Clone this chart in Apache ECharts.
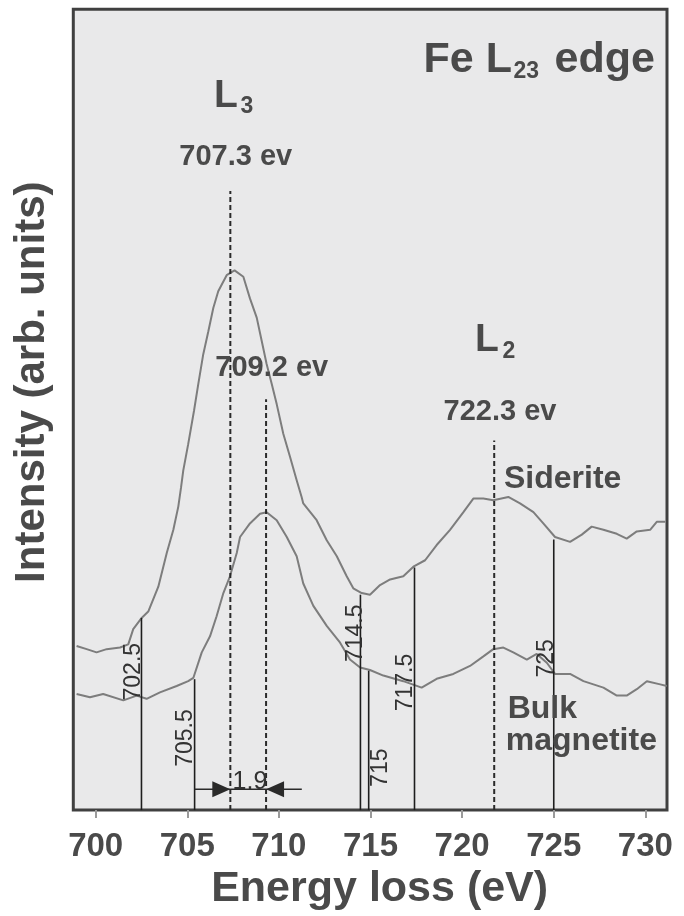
<!DOCTYPE html>
<html><head><meta charset="utf-8">
<script src="https://cdn.jsdelivr.net/npm/echarts@6/dist/echarts.min.js"></script>
<style>html,body{margin:0;padding:0;background:#fff}#c{width:684px;height:916px}</style>
</head><body><div id="c"></div>
<script>
// ---- data ----
const xTicks = [700, 705, 710, 715, 720, 725, 730];
const siderite = [[698.96,20.5],[699.51,20.1],[700.05,19.7],[700.60,20.1],[701.33,20.3],[701.78,20.7],[702.05,22.6],[702.51,24.0],[702.87,24.8],[703.42,27.9],[703.88,32.1],[704.24,35.0],[704.51,37.9],[704.66,40.3],[704.78,42.4],[705.05,45.7],[705.37,49.9],[705.60,53.2],[705.87,56.9],[706.15,59.8],[706.42,62.7],[706.69,64.8],[707.15,66.8],[707.58,67.4],[708.06,66.6],[708.42,63.9],[708.79,61.5],[709.06,58.6],[709.33,55.7],[709.61,53.2],[709.88,50.7],[710.24,47.0],[710.61,44.1],[710.97,41.2],[711.24,39.1],[711.33,38.3],[712.06,36.2],[712.61,33.7],[713.16,31.7],[713.70,29.2],[714.06,27.7],[714.52,27.1],[714.97,26.9],[715.52,28.1],[716.07,28.8],[716.79,29.2],[717.34,30.4],[717.98,31.2],[718.61,33.1],[719.34,35.0],[720.07,37.2],[720.61,38.9],[721.16,38.9],[721.70,38.7],[722.52,39.1],[723.16,38.3],[723.89,37.2],[724.43,35.8],[725.07,34.1],[725.89,33.5],[726.53,34.4],[727.07,35.4],[727.71,35.0],[728.44,34.5],[728.98,33.9],[729.53,34.8],[730.26,35.0],[730.62,36.0],[731.08,36.0]];
const magnetite = [[698.96,14.5],[699.69,14.1],[700.41,14.5],[701.51,13.7],[702.24,14.3],[702.78,13.9],[703.51,14.7],[704.42,15.5],[705.05,16.1],[705.33,16.5],[705.79,19.7],[706.24,21.7],[706.60,24.2],[706.97,27.1],[707.33,29.2],[707.70,32.1],[707.88,34.1],[708.42,35.8],[708.97,37.0],[709.33,37.2],[709.88,36.2],[710.43,34.1],[710.97,31.7],[711.33,28.3],[711.88,25.5],[712.61,23.0],[713.34,20.9],[713.88,18.8],[714.43,17.8],[714.97,17.5],[715.70,16.8],[716.79,16.1],[717.79,15.3],[718.61,16.4],[719.52,17.0],[720.43,18.0],[721.16,19.2],[721.70,20.1],[722.25,20.3],[722.79,19.7],[723.53,18.8],[724.07,19.5],[724.62,18.4],[725.07,17.0],[725.89,17.0],[726.62,16.1],[727.71,15.3],[728.44,14.3],[728.98,14.3],[729.53,15.1],[730.08,16.1],[730.81,15.7],[731.17,15.5]];
const markerLabels = ['702.5', '705.5', '714.5', '715', '717.5', '725'];
const markerEnergy = [702.5, 705.4, 714.45, 714.9, 717.4, 725.0];
const markerTop = [24.0, 16.35, 26.9, 17.4, 30.3, 33.8];
const peakLabels = ['707.3 ev', '709.2 ev', '722.3 ev'];
const peakEnergy = [707.35, 709.3, 721.75];
const peakTop = [77.3, 51.3, 46.15];
const shiftFrom = [705.4, 707.35, 711.25];
const shiftTo = [707.35, 709.3, 709.3];
const shiftHead = [1, 0, 1];
const shiftLevel = [2.6];
const shiftLabel = '1.9';

// ---- layout / style ----
const FF = '"Liberation Sans", Arial, sans-serif';
const TXT = '#4a4a4a';
const markerLabelPos = [[133.7,671.7],[185.3,738],[355.3,633.3],[380.7,767.7],[406,682.5],[547,658.3]];
const peakLabelPos = [[235.8,157.3],[271.7,368.3],[500,411.7]];

const chart = echarts.init(document.getElementById('c'), null, {renderer: 'canvas'});

function txt(x, y, text, font, align, fill, rotation) {
  return {type: 'text', x: x, y: y, rotation: rotation || 0, z: 100,
    style: {text: text, font: font, fill: fill || TXT, align: align || 'left', verticalAlign: 'middle',
            textAlign: align || 'left', textVerticalAlign: 'middle'}};
}

const graphics = [];
graphics.push(txt(423.5, 60.4, 'Fe L', 'bold 43px ' + FF));
graphics.push(txt(513.5, 72, '23', 'bold 23px ' + FF));
graphics.push(txt(554.5, 60.4, 'edge', 'bold 43px ' + FF));
graphics.push(txt(214, 95.8, 'L', 'bold 39px ' + FF));
graphics.push(txt(240.5, 107, '3', 'bold 23px ' + FF));
graphics.push(txt(475, 340.5, 'L', 'bold 39px ' + FF));
graphics.push(txt(502.5, 352, '2', 'bold 23px ' + FF));
peakLabels.forEach((t, i) => graphics.push(txt(peakLabelPos[i][0], peakLabelPos[i][1], t, 'bold 29px ' + FF, 'center')));
graphics.push(txt(504, 479, 'Siderite', 'bold 32px ' + FF));
graphics.push(txt(507.7, 708.9, 'Bulk', 'bold 32px ' + FF));
graphics.push(txt(505.8, 741.6, 'magnetite', 'bold 32px ' + FF));
graphics.push(txt(250, 782.3, shiftLabel, '25px ' + FF, 'center', '#333'));
markerLabels.forEach((t, i) => graphics.push(txt(markerLabelPos[i][0], markerLabelPos[i][1], t, '23px ' + FF, 'center', '#333', Math.PI / 2)));

function vline(color, dash, width) {
  return function (params, api) {
    const p0 = api.coord([api.value(0), 0]);
    const p1 = api.coord([api.value(0), api.value(1)]);
    return {type: 'line', shape: {x1: p0[0], y1: p0[1], x2: p1[0], y2: p1[1]},
      style: {stroke: color, lineWidth: width, lineDash: dash}};
  };
}

const option = {
  animation: false,
  backgroundColor: '#ffffff',
  textStyle: {fontFamily: FF},
  graphic: graphics,
  grid: {left: 73.3, right: 17, top: 9.3, bottom: 101, show: true,
         backgroundColor: '#e9e9ea', borderColor: '#404040', borderWidth: 3},
  xAxis: {
    type: 'value', min: 698.78, max: 731.18,
    name: 'Energy loss (eV)', nameLocation: 'middle', nameGap: 74,
    nameTextStyle: {fontSize: 43, fontWeight: 'bold', color: TXT, fontFamily: FF, verticalAlign: 'middle', padding: [0, 0, 0, 19]},
    axisLine: {show: false},
    axisTick: {show: true, inside: false, length: 8, customValues: xTicks, lineStyle: {color: '#9a9a9a', width: 2}},
    axisLabel: {customValues: xTicks, margin: 20, fontSize: 33, fontWeight: 'bold', color: TXT, fontFamily: FF},
    splitLine: {show: false}
  },
  yAxis: {
    type: 'value', min: 0, max: 100,
    name: 'Intensity (arb. units)', nameLocation: 'middle', nameGap: 41, nameRotate: 90,
    nameTextStyle: {fontSize: 42, fontWeight: 'bold', color: TXT, fontFamily: FF, align: 'center', verticalAlign: 'middle', padding: [0, 0, 0, 55]},
    axisLine: {show: false}, axisTick: {show: false}, axisLabel: {show: false}, splitLine: {show: false}
  },
  series: [
    {name: 'Siderite', type: 'line', data: siderite, showSymbol: false, symbol: 'none',
     lineStyle: {color: '#7d7d7d', width: 2}, z: 3},
    {name: 'Bulk magnetite', type: 'line', data: magnetite, showSymbol: false, symbol: 'none',
     lineStyle: {color: '#7d7d7d', width: 2}, z: 3},
    {name: 'markers', type: 'custom', clip: false, z: 4,
     data: markerEnergy.map((e, i) => [e, markerTop[i]]), encode: {x: 0, y: 1},
     renderItem: vline('#1e1e1e', null, 1.6)},
    {name: 'peaks', type: 'custom', clip: false, z: 4,
     data: peakEnergy.map((e, i) => [e, peakTop[i]]), encode: {x: 0, y: 1},
     renderItem: vline('#2a2a2a', [5, 3], 2)},
    {name: 'shift', type: 'custom', clip: false, z: 5,
     data: shiftFrom.map((e, i) => [e, shiftTo[i], shiftLevel[0], shiftHead[i]]), encode: {x: [0, 1], y: 2},
     renderItem: function (params, api) {
       const a = api.coord([api.value(0), api.value(2)]);
       const b = api.coord([api.value(1), api.value(2)]);
       const children = [{type: 'line', shape: {x1: a[0], y1: a[1], x2: b[0], y2: b[1]},
         style: {stroke: '#2a2a2a', lineWidth: 1.6}}];
       if (api.value(3)) {
         const dir = b[0] > a[0] ? 1 : -1;
         children.push({type: 'polygon', shape: {points: [[b[0], b[1]], [b[0] - dir * 18, b[1] - 8], [b[0] - dir * 18, b[1] + 8]]},
           style: {fill: '#2a2a2a'}});
       }
       return {type: 'group', children: children};
     }}
  ]
};
chart.setOption(option);
</script></body></html>
